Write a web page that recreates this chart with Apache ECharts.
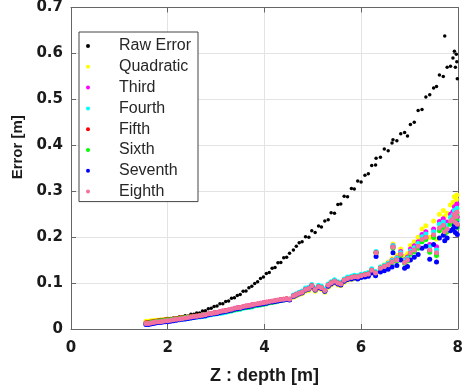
<!DOCTYPE html>
<html>
<head>
<meta charset="utf-8">
<style>
  html, body {margin: 0; padding: 0; background: #fff;}
  #chart {width: 466px; height: 390px;}
</style>
<script src="https://cdn.jsdelivr.net/npm/echarts@6/dist/echarts.min.js"></script>
</head>
<body>
<div id="chart"></div>
<script>
// depth Z [m], shared by every series
const depth = [
  1.55, 1.60, 1.65, 1.70, 1.75, 1.80, 1.85, 1.90, 1.95, 2.00,
  2.06, 2.12, 2.18, 2.24, 2.30, 2.36, 2.42, 2.48, 2.54, 2.60,
  2.66, 2.72, 2.78, 2.84, 2.90, 2.96, 3.02, 3.08, 3.14, 3.20,
  3.26, 3.32, 3.38, 3.44, 3.50, 3.56, 3.62, 3.68, 3.74, 3.80,
  3.86, 3.92, 3.98, 4.04, 4.10, 4.16, 4.22, 4.28, 4.34, 4.40,
  4.46, 4.52,
  4.60, 4.66, 4.72, 4.78, 4.85, 4.92, 4.98, 5.05, 5.12, 5.18,
  5.25, 5.32, 5.38, 5.45, 5.52, 5.58, 5.65, 5.72, 5.80, 5.86,
  5.93, 6.00, 6.08, 6.15, 6.22, 6.30, 6.31, 6.40, 6.48, 6.56,
  6.64, 6.66, 6.74, 6.82, 6.90, 6.96, 7.02, 7.10, 7.18, 7.26,
  7.34, 7.42, 7.50, 7.56, 7.62, 7.70, 7.73, 7.78, 7.85,
  7.90, 7.93, 7.95, 7.97, 7.98, 7.99
];

const rawError = [
  .013, .015, .014, .017, .016, .018, .017, .020, .019, .022,
  .021, .024, .023, .026, .026, .029, .028, .032, .032, .035,
  .035, .039, .040, .044, .045, .049, .050, .055, .055, .060,
  .061, .067, .068, .073, .075, .082, .083, .090, .093, .099,
  .103, .110, .113, .121, .123, .132, .134, .144, .145, .155,
  .156, .165,
  .172, .180, .188, .190, .201, .200, .214, .210, .224, .222,
  .235, .238, .253, .252, .271, .272, .289, .288, .306, .305,
  .322, .320, .335, .338, .356, .357, .372, .374, .392, .388,
  .405, .412, .410, .425, .428, .420, .445, .450, .476, .478,
  .505, .510, .525, .528, .553, .550, .638, .570, .572,
  .590, .605, .570, .598, .582, .545
];

const quadratic = [
  .017, .017, .018, .018, .019, .019, .019, .020, .020, .020,
  .020, .021, .021, .022, .023, .024, .024, .025, .026, .027,
  .028, .029, .030, .032, .033, .034, .035, .037, .038, .039,
  .041, .042, .044, .045, .046, .048, .049, .050, .051, .053,
  .054, .055, .056, .057, .059, .060, .061, .062, .063, .064,
  .065, .064,
  .069, .072, .075, .077, .082, .084, .090, .082, .088, .086,
  .080, .091, .096, .100, .096, .094, .102, .106, .108, .110,
  .110, .113, .116, .119, .128, .123, .167, .135, .140, .146,
  .153, .185, .160, .174, .158, .164, .182, .190, .200, .218,
  .225, .200, .235, .196, .250, .258, .245, .252, .270,
  .276, .288, .268, .282, .292, .262
];

const third = [
  .013, .013, .014, .015, .015, .016, .017, .017, .018, .019,
  .019, .020, .021, .022, .023, .024, .025, .026, .027, .028,
  .029, .030, .031, .032, .034, .035, .036, .037, .039, .040,
  .041, .043, .044, .046, .047, .048, .050, .051, .052, .053,
  .054, .056, .057, .058, .059, .060, .061, .062, .063, .064,
  .065, .064,
  .071, .074, .077, .079, .085, .087, .093, .085, .091, .089,
  .083, .094, .099, .103, .099, .097, .105, .109, .111, .113,
  .112, .115, .117, .120, .128, .122, .167, .133, .138, .143,
  .150, .182, .155, .169, .151, .157, .174, .181, .190, .206,
  .212, .184, .218, .179, .234, .240, .227, .233, .250,
  .256, .266, .248, .261, .272, .244
];

const fourth = [
  .011, .011, .012, .013, .014, .015, .015, .016, .017, .017,
  .018, .019, .020, .021, .021, .022, .023, .024, .025, .026,
  .026, .027, .028, .030, .031, .032, .033, .034, .035, .036,
  .038, .039, .041, .042, .043, .045, .046, .047, .048, .050,
  .051, .052, .054, .055, .057, .058, .060, .061, .062, .064,
  .065, .065,
  .074, .077, .080, .083, .089, .091, .097, .089, .095, .093,
  .087, .098, .103, .107, .103, .101, .109, .113, .115, .117,
  .116, .119, .121, .123, .131, .125, .169, .135, .139, .143,
  .149, .181, .154, .166, .149, .154, .170, .177, .186, .201,
  .207, .179, .212, .172, .228, .233, .219, .226, .243,
  .248, .258, .240, .253, .263, .236
];

const fifth = [
  .013, .014, .015, .016, .017, .018, .019, .019, .020, .021,
  .021, .022, .023, .024, .025, .025, .026, .027, .028, .029,
  .029, .030, .031, .032, .034, .035, .036, .037, .038, .040,
  .041, .042, .044, .045, .046, .048, .049, .050, .052, .053,
  .054, .055, .056, .058, .059, .060, .061, .062, .064, .065,
  .066, .065,
  .072, .075, .078, .080, .086, .088, .094, .086, .092, .090,
  .084, .095, .100, .104, .100, .098, .106, .110, .112, .114,
  .113, .116, .118, .120, .128, .122, .166, .132, .136, .140,
  .146, .178, .150, .162, .145, .150, .165, .171, .179, .194,
  .199, .171, .203, .164, .218, .224, .210, .216, .233,
  .238, .248, .230, .243, .253, .226
];

const sixth = [
  .012, .013, .014, .015, .016, .017, .018, .018, .019, .020,
  .020, .021, .022, .023, .024, .025, .026, .026, .027, .028,
  .029, .030, .031, .032, .033, .034, .035, .036, .037, .038,
  .039, .040, .042, .043, .044, .046, .047, .048, .049, .051,
  .052, .053, .054, .055, .057, .058, .059, .061, .062, .063,
  .064, .064,
  .071, .074, .077, .079, .085, .087, .093, .085, .091, .089,
  .083, .094, .099, .103, .099, .097, .105, .109, .111, .113,
  .112, .115, .117, .119, .127, .121, .165, .131, .135, .139,
  .144, .176, .148, .160, .143, .148, .163, .168, .176, .190,
  .195, .167, .199, .160, .214, .220, .206, .212, .228,
  .233, .243, .225, .238, .248, .221
];

const seventh = [
  .010, .010, .011, .012, .013, .014, .014, .015, .016, .016,
  .017, .018, .019, .020, .021, .022, .023, .024, .025, .026,
  .027, .028, .029, .031, .032, .033, .034, .036, .037, .038,
  .040, .041, .043, .044, .045, .047, .048, .049, .050, .052,
  .053, .054, .055, .056, .058, .059, .060, .061, .062, .063,
  .064, .063,
  .071, .074, .077, .079, .085, .087, .093, .085, .090, .088,
  .082, .093, .098, .102, .098, .096, .104, .108, .109, .111,
  .109, .112, .113, .115, .122, .116, .158, .124, .127, .130,
  .135, .166, .138, .150, .132, .136, .150, .156, .162, .176,
  .180, .152, .184, .146, .198, .204, .192, .198, .214,
  .218, .226, .210, .222, .230, .206
];

const eighth = [
  .012, .012, .013, .014, .015, .016, .016, .017, .018, .018,
  .019, .020, .021, .022, .023, .024, .025, .026, .027, .028,
  .029, .030, .031, .033, .034, .035, .036, .038, .039, .040,
  .042, .043, .045, .046, .047, .049, .050, .051, .052, .054,
  .055, .056, .057, .058, .060, .061, .062, .063, .064, .065,
  .066, .065,
  .072, .075, .078, .080, .086, .088, .094, .086, .092, .090,
  .084, .095, .100, .104, .100, .098, .106, .110, .112, .114,
  .113, .116, .118, .120, .128, .122, .166, .132, .136, .140,
  .146, .178, .150, .163, .145, .150, .166, .172, .180, .195,
  .200, .172, .205, .166, .220, .226, .212, .218, .235,
  .240, .250, .232, .245, .255, .228
];

const xTicks = [0, 2, 4, 6, 8];
const yTicks = [0, 0.1, 0.2, 0.3, 0.4, 0.5, 0.6, 0.7];

const seriesDefs = [
  ['Raw Error', rawError, '#000000', 3.5],
  ['Quadratic', quadratic, '#ffff00', 5],
  ['Third', third, '#ff00ff', 5],
  ['Fourth', fourth, '#00ffff', 5],
  ['Fifth', fifth, '#ff0000', 5],
  ['Sixth', sixth, '#00ff00', 5],
  ['Seventh', seventh, '#0000ff', 5],
  ['Eighth', eighth, '#f2739f', 5]
];

const tickFont = 'DejaVu Sans';
const textFont = 'Liberation Sans';

const chart = echarts.init(document.getElementById('chart'));

const xAxisBase = {
  type: 'value',
  min: xTicks[0],
  max: xTicks[xTicks.length - 1],
  interval: xTicks[1] - xTicks[0],
  axisLine: {show: true, onZero: false, lineStyle: {color: '#666', width: 1}},
  axisTick: {show: true, inside: true, length: 5, lineStyle: {color: '#666'}}
};
const yAxisBase = {
  type: 'value',
  min: yTicks[0],
  max: yTicks[yTicks.length - 1],
  interval: 0.1,
  axisLine: {show: true, onZero: false, lineStyle: {color: '#666', width: 1}},
  axisTick: {show: true, inside: true, length: 5, lineStyle: {color: '#666'}}
};

chart.setOption({
  animation: false,
  backgroundColor: '#fff',
  grid: {left: 71, right: 8, top: 6, bottom: 61},
  legend: {
    orient: 'vertical',
    left: 79,
    top: 32,
    padding: [6, 7, 2, 7],
    itemWidth: 52,
    itemHeight: 4,
    itemGap: 4.8,
    icon: 'circle',
    backgroundColor: '#fff',
    borderColor: '#444',
    borderWidth: 1,
    borderRadius: 0,
    textStyle: {fontFamily: textFont, fontSize: 16, color: '#262626'},
    data: seriesDefs.map(d => d[0])
  },
  xAxis: [
    Object.assign({}, xAxisBase, {
      position: 'bottom',
      name: 'Z : depth [m]',
      nameLocation: 'middle',
      nameGap: 38,
      nameTextStyle: {fontFamily: textFont, fontSize: 18, fontWeight: 'bold', color: '#1a1a1a'},
      axisLabel: {margin: 12, fontFamily: tickFont, fontSize: 15, fontWeight: 'bold', color: '#1a1a1a'},
      splitLine: {show: true, lineStyle: {color: '#e3e3e3', width: 1}}
    }),
    Object.assign({}, xAxisBase, {
      position: 'top',
      axisLabel: {show: false},
      splitLine: {show: false}
    })
  ],
  yAxis: [
    Object.assign({}, yAxisBase, {
      position: 'left',
      name: 'Error [m]',
      nameLocation: 'middle',
      nameRotate: 90,
      nameGap: 38,
      nameTextStyle: {fontFamily: textFont, fontSize: 15, fontWeight: 'bold', color: '#1a1a1a', padding: [0, 0, 0, 42]},
      axisLabel: {margin: 8, fontFamily: tickFont, fontSize: 15, fontWeight: 'bold', color: '#1a1a1a'},
      splitLine: {show: true, lineStyle: {color: '#e3e3e3', width: 1}}
    }),
    Object.assign({}, yAxisBase, {
      position: 'right',
      axisLabel: {show: false},
      splitLine: {show: false}
    })
  ],
  series: seriesDefs.map(([name, values, color, size]) => ({
    name: name,
    type: 'scatter',
    symbol: 'circle',
    symbolSize: size,
    itemStyle: {color: color, opacity: 1},
    emphasis: {disabled: true},
    data: depth.map((z, i) => [z, values[i]])
  }))
});
</script>
</body>
</html>
